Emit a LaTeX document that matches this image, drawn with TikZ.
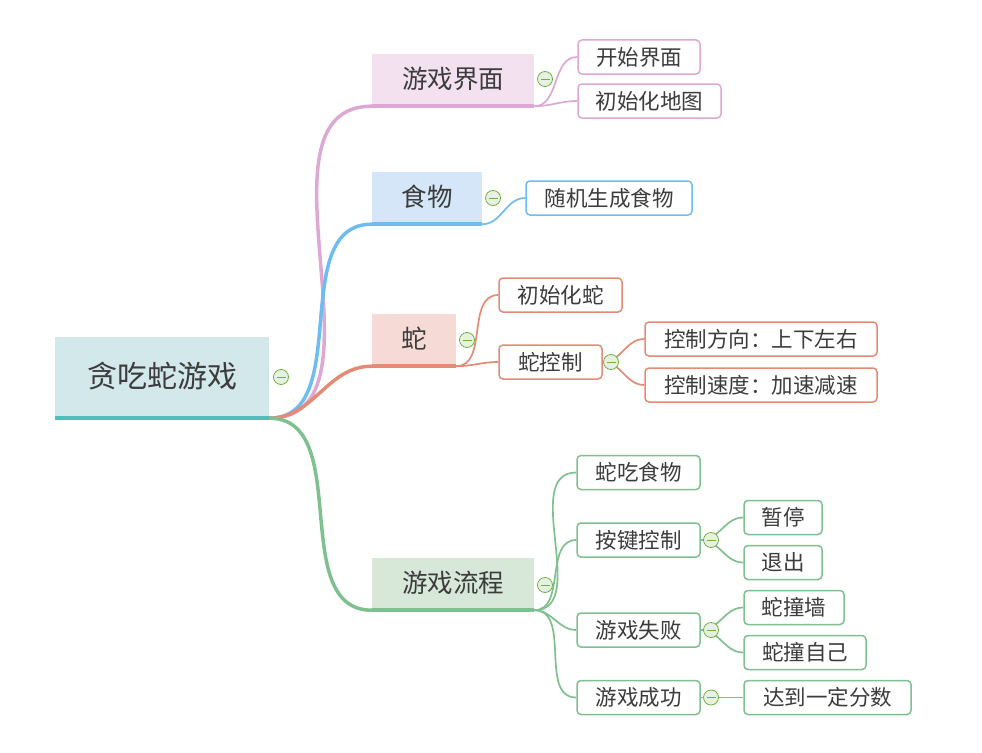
\documentclass[tikz,border=0pt]{standalone}
\usepackage{fontspec}
\setmainfont{Noto Sans CJK SC}
\usetikzlibrary{calc}
\definecolor{inkgray}{HTML}{3C3C3C}
\definecolor{rootfill}{HTML}{D2E8EA}
\definecolor{rootbar}{HTML}{52BDBD}
\definecolor{uifill}{HTML}{F3E1F0}
\definecolor{uiline}{HTML}{DDA8D4}
\definecolor{foodfill}{HTML}{D4E6F8}
\definecolor{foodline}{HTML}{6DBDF0}
\definecolor{snakefill}{HTML}{F6DAD5}
\definecolor{snakeline}{HTML}{E38B74}
\definecolor{flowfill}{HTML}{D7E8D9}
\definecolor{flowline}{HTML}{7FC08F}
\definecolor{foldgreen}{HTML}{6DB33F}
\definecolor{foldfill}{HTML}{E8F0E4}

\begin{document}
\begin{tikzpicture}[ x=1pt, y=-1pt,
      root/.style={fill=rootfill, text=inkgray, inner sep=0pt, minimum width=214pt, minimum height=79pt, font=\fontsize{30}{34}\selectfont},
      topic/.style={text=inkgray, inner sep=0pt, minimum height=50pt, font=\fontsize{25.5}{29}\selectfont},
      sub/.style={draw, rounded corners=4pt, line width=1.5pt, fill=white, text=inkgray, inner sep=0pt, minimum height=34pt, font=\fontsize{21.5}{25}\selectfont},
      bar/.style={line width=4pt},
      trunk/.style={line width=3.5pt},
      link/.style={line width=1.7pt},
      fold/.style={circle, draw=foldgreen, line width=0.8pt, fill=foldfill, inner sep=0pt, minimum size=15pt,
        path picture={\draw[foldgreen, line width=1pt] ($(path picture bounding box.west)+(3pt,0)$) -- ($(path picture bounding box.east)-(3pt,0)$);}}
      ]
      \useasboundingbox (0,0) rectangle (982,752);

      % root
      \node[root] (game) at (162,376.5) {贪吃蛇游戏};
      \coordinate (hub) at ($(game.south east)+(0,2)$);

      % topics
      \node[topic, fill=uifill, minimum width=162pt] (ui) at (453,79) {游戏界面};
      \node[topic, fill=foodfill, minimum width=110pt] (food) at (427,197) {食物};
      \node[topic, fill=snakefill, minimum width=84pt] (snake) at (414,339) {蛇};
      \node[topic, fill=flowfill, minimum width=162pt] (flow) at (453,583) {游戏流程};

      % trunks
      \draw[trunk, uiline] (hub) to[out=0, in=180] ($(ui.south west)+(0,2)$);
      \draw[trunk, foodline] (hub) to[out=0, in=180] ($(food.south west)+(0,2)$);
      \draw[trunk, snakeline] (hub) to[out=0, in=180] ($(snake.south west)+(0,2)$);
      \draw[trunk, flowline] (hub) to[out=0, in=180] ($(flow.south west)+(0,2)$);

      \draw[bar, rootbar] ($(game.south west)+(0,2)$) -- (hub);
      \draw[bar, uiline] ($(ui.south west)+(0,2)$) -- ($(ui.south east)+(0,2)$);
      \draw[bar, foodline] ($(food.south west)+(0,2)$) -- ($(food.south east)+(0,2)$);
      \draw[bar, snakeline] ($(snake.south west)+(0,2)$) -- ($(snake.south east)+(0,2)$);
      \draw[bar, flowline] ($(flow.south west)+(0,2)$) -- ($(flow.south east)+(0,2)$);

      % subtopics
      \node[sub, draw=uiline, minimum width=122pt] (start) at (639,57) {开始界面};
      \node[sub, draw=uiline, minimum width=143pt] (initmap) at (649.5,101) {初始化地图};

      \node[sub, draw=foodline, minimum width=166pt] (randfood) at (609,198) {随机生成食物};

      \node[sub, draw=snakeline, minimum width=123pt] (initsnake) at (560.5,295) {初始化蛇};
      \node[sub, draw=snakeline, minimum width=103pt] (control) at (550.5,362) {蛇控制};
      \node[sub, draw=snakeline, minimum width=232pt] (direction) at (761,339) {控制方向：上下左右};
      \node[sub, draw=snakeline, minimum width=232pt] (speed) at (761,385) {控制速度：加速减速};

      \node[sub, draw=flowline, minimum width=123pt] (eat) at (638.5,472.5) {蛇吃食物};
      \node[sub, draw=flowline, minimum width=123pt] (keys) at (638.5,540) {按键控制};
      \node[sub, draw=flowline, minimum width=123pt] (lose) at (638.5,630) {游戏失败};
      \node[sub, draw=flowline, minimum width=123pt] (win) at (638.5,697.5) {游戏成功};
      \node[sub, draw=flowline, minimum width=78pt] (pause) at (783,517.5) {暂停};
      \node[sub, draw=flowline, minimum width=78pt] (quit) at (783,562.5) {退出};
      \node[sub, draw=flowline, minimum width=100pt] (wall) at (794,607.5) {蛇撞墙};
      \node[sub, draw=flowline, minimum width=122pt] (self) at (805,652.5) {蛇撞自己};
      \node[sub, draw=flowline, minimum width=167pt] (score) at (827.5,697.5) {达到一定分数};

      % links
      \draw[link, uiline] ($(ui.south east)+(0,2)$) to[out=0, in=180] (start.west);
      \draw[link, uiline] ($(ui.south east)+(0,2)$) to[out=0, in=180] (initmap.west);
      \draw[link, foodline] ($(food.south east)+(0,2)$) to[out=0, in=180] (randfood.west);
      \draw[link, snakeline] ($(snake.south east)+(0,2)$) to[out=0, in=180] (initsnake.west);
      \draw[link, snakeline] ($(snake.south east)+(0,2)$) to[out=0, in=180] (control.west);
      \draw[link, snakeline] (control.east) to[out=0, in=180] (direction.west);
      \draw[link, snakeline] (control.east) to[out=0, in=180] (speed.west);
      \foreach \t in {eat,keys,lose,win}
        \draw[link, flowline] ($(flow.south east)+(0,2)$) to[out=0, in=180] (\t.west);
      \draw[link, flowline] (keys.east) to[out=0, in=180] (pause.west);
      \draw[link, flowline] (keys.east) to[out=0, in=180] (quit.west);
      \draw[link, flowline] (lose.east) to[out=0, in=180] (wall.west);
      \draw[link, flowline] (lose.east) to[out=0, in=180] (self.west);
      \draw[link, flowline] (win.east) -- (score.west);

      % fold marks
      \node[fold] (fgame) at (281,377) {};
      \node[fold] (fui) at (545,79) {};
      \node[fold] (ffood) at (493,198) {};
      \node[fold] (fsnake) at (467,340) {};
      \node[fold] (fcontrol) at (611,362) {};
      \node[fold] (fflow) at (545,585) {};
      \node[fold] (fkeys) at (711,540) {};
      \node[fold] (flose) at (711,630) {};
      \node[fold] (fwin) at (711,697.5) {};
    \end{tikzpicture}
\end{document}
